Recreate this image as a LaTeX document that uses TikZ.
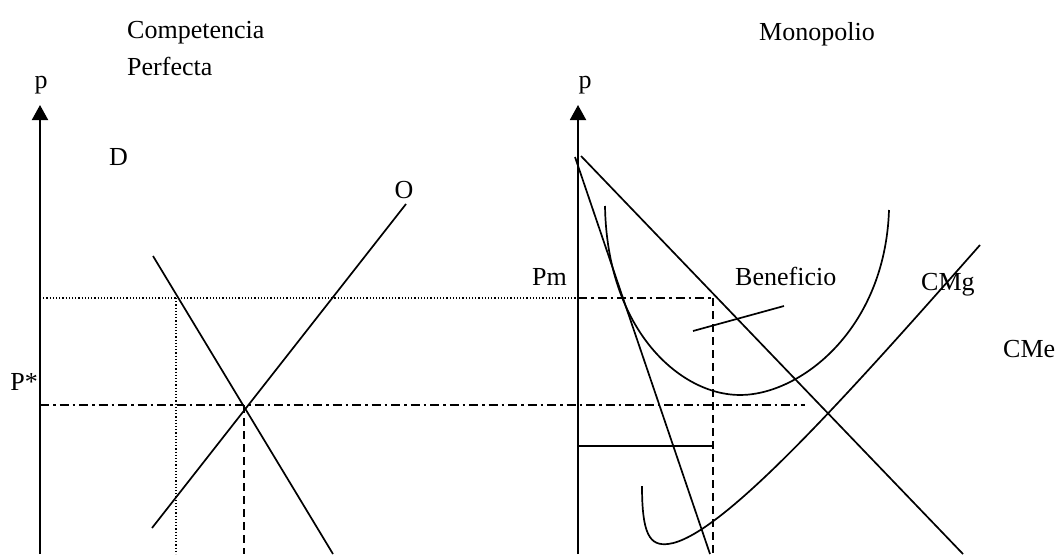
\documentclass[tikz,border=0pt]{standalone}
\usepackage{fontspec}
\setmainfont{Liberation Serif}
\usetikzlibrary{arrows.meta}
\begin{document}
\begin{tikzpicture}[x=1pt,y=-1pt,
  curve/.style={line width=1.7pt},
  axisline/.style={line width=1.9pt,-{Triangle[length=15pt,width=16pt]}},
  dotline/.style={line width=1.2pt,dash pattern=on 1.2pt off 2pt},
  dashline/.style={line width=1.7pt,dash pattern=on 8pt off 5pt},
  dashdot/.style={line width=1.7pt,dash pattern=on 9pt off 4pt on 2.5pt off 4pt},
  lbl/.style={inner sep=0pt,font=\fontsize{26}{30}\selectfont}]
\useasboundingbox (0,0) rectangle (1059,554);
% ---------- labels
\node[lbl,anchor=base west] (tcomp) at (127,38) {Competencia};
\node[lbl,anchor=base west] (tperf) at (127,75) {Perfecta};
\node[lbl,anchor=base east] (tmono) at (875,40) {Monopolio};
\node[lbl,anchor=base] (pl) at (41,88) {p};
\node[lbl,anchor=base] (pr) at (585,88) {p};
\node[lbl,anchor=base west] (lD) at (109,165) {D};
\node[lbl,anchor=base] (lO) at (404,198) {O};
\node[lbl,anchor=base east] (lPs) at (38,390) {P*};
\node[lbl,anchor=base east] (lPm) at (567,285) {Pm};
\node[lbl,anchor=base west] (lBen) at (735,285) {Beneficio};
\node[lbl,anchor=base west] (lCMg) at (921,290) {CMg};
\node[lbl,anchor=base west] (lCMe) at (1003,357) {CMe};
% ---------- coordinates
\coordinate (la0) at (40,554);   \coordinate (la1) at (40,105);
\coordinate (ra0) at (578,554);  \coordinate (ra1) at (578,105);
\coordinate (Dl0) at (153,256);  \coordinate (Dl1) at (333,554);
\coordinate (Ol0) at (152,528);  \coordinate (Ol1) at (406,204);
\coordinate (eq) at (244,405);
\coordinate (dotL) at (40,298);  \coordinate (dotR) at (576,298);
\coordinate (dotV0) at (176,298); \coordinate (dotV1) at (176,554);
\coordinate (eqB) at (244,554);
\coordinate (ddL) at (40,405);   \coordinate (ddR) at (805,405);
\coordinate (pmL) at (578,298);  \coordinate (pmR) at (713,298);
\coordinate (qB) at (713,554);
\coordinate (rect0) at (578,446); \coordinate (rect1) at (713,446);
\coordinate (Dr0) at (581,156);  \coordinate (Dr1) at (963,554);
\coordinate (IMg0) at (575,157); \coordinate (IMg1) at (710,554);
\coordinate (ben0) at (693,331); \coordinate (ben1) at (784,306);
\coordinate (cmeA) at (605,206); \coordinate (cmeM) at (740,395); \coordinate (cmeB) at (889,210);
\coordinate (cmgA) at (642,486); \coordinate (cmgM) at (668,544); \coordinate (cmgB) at (980,245);
% ---------- axes
\draw[axisline] (la0) -- (la1);
\draw[axisline] (ra0) -- (ra1);
% ---------- left panel
\draw[curve] (Dl0) -- (Dl1);
\draw[curve] (Ol0) -- (Ol1);
\draw[dotline] (dotL) -- (dotR);
\draw[dotline] (dotV0) -- (dotV1);
\draw[dashline] (eq) -- (eqB);
\draw[dashdot] (ddL) -- (ddR);
% ---------- right panel
\draw[dashdot] (pmL) -- (pmR);
\draw[dashline] (pmR) -- (qB);
\draw[curve] (rect0) -- (rect1);
\draw[curve] (Dr0) -- (Dr1);
\draw[curve] (IMg0) -- (IMg1);
\draw[curve] (ben0) -- (ben1);
\draw[curve] (cmeA) .. controls (607,330) and (680,395) .. (cmeM)
                    .. controls (800,395) and (885,330) .. (cmeB);
\draw[curve] (cmgA) .. controls (642,535) and (650,546) .. (cmgM)
                    .. controls (720,538) and (845,398) .. (cmgB);
\end{tikzpicture}
\end{document}
